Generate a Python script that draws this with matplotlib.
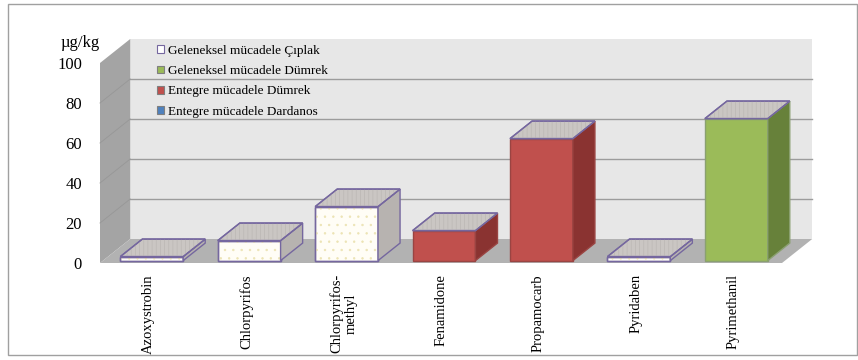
import matplotlib
matplotlib.use('Agg')
import matplotlib.pyplot as plt
from matplotlib.patches import Polygon, Rectangle, Patch

# datos (µg/kg)
categories = ['Azoxystrobin', 'Chlorpyrifos', 'Chlorpyrifos-\nmethyl', 'Fenamidone',
              'Propamocarb', 'Pyridaben', 'Pyrimethanil']
geleneksel_ciplak = [2, 10, 27, 0, 0, 2, 0]
geleneksel_dumrek = [0, 0, 0, 0, 0, 0, 71]
entegre_dumrek = [0, 0, 0, 15, 61, 0, 0]
entegre_dardanos = [0, 0, 0, 0, 0, 0, 0]
series_names = ['Geleneksel mücadele Çıplak', 'Geleneksel mücadele Dümrek',
                'Entegre mücadele Dümrek', 'Entegre mücadele Dardanos']
y_ticks = [0, 20, 40, 60, 80, 100]

# estilo de cada serie: frente, lateral, borde, patrón del frente
styles = [
    dict(front='#fffdf6', side='#b7b3b0', edge='#75679f', hatch='..', hcol='#ece3b4'),
    dict(front='#9bbb59', side='#67813a', edge='#8aa070', hatch=None, hcol=None),
    dict(front='#c0504d', side='#8a3331', edge='#9a4442', hatch=None, hcol=None),
    dict(front='#4f81bd', side='#385d8a', edge='#385d8a', hatch=None, hcol=None),
]
series = [geleneksel_ciplak, geleneksel_dumrek, entegre_dumrek, entegre_dardanos]

plt.rcParams['font.family'] = ['Liberation Serif', 'DejaVu Serif']
plt.rcParams['hatch.linewidth'] = 0.5

fig = plt.figure(figsize=(8.58, 3.6), dpi=100)
ax = fig.add_axes([100 / 858, 97 / 360, 682 / 858, 200 / 360])
ax.set_xlim(-0.5, len(categories) - 0.5)
ax.set_ylim(0, 100)

# profundidad del "3D" en unidades de datos
DX, DY = 0.31, 12.0
Z0, Z1 = 0.1, 0.83
W = 0.645


def P(x, y, z):
    return (x + z * DX, y + z * DY)


def poly(pts, **kw):
    p = Polygon(pts, closed=True, clip_on=False, **kw)
    ax.add_patch(p)
    return p


xa, xb = -0.5, len(categories) - 0.5
ymax = y_ticks[-1]

# pared del fondo, pared izquierda y suelo
poly([P(xa, 0, 1), P(xb, 0, 1), P(xb, ymax, 1), P(xa, ymax, 1)],
     facecolor='#e7e7e7', edgecolor='none', zorder=1)
poly([P(xa, 0, 0), P(xa, 0, 1), P(xa, ymax, 1), P(xa, ymax, 0)],
     facecolor='#a4a4a4', edgecolor='none', zorder=1)
for v in y_ticks[1:-1]:
    x1, y1 = P(xa, v, 1)
    x2, y2 = P(xb, v, 1)
    ax.plot([x1, x2], [y1, y2], color='#9c9c9c', lw=1.0, zorder=2, clip_on=False)
    x0, y0 = P(xa, v, 0)
    ax.plot([x0, x1], [y0, y1], color='#979797', lw=0.6, zorder=2, clip_on=False)
poly([P(xa, 0, 0), P(xb, 0, 0), P(xb, 0, 1), P(xa, 0, 1)],
     facecolor='#b2b2b2', edgecolor='none', zorder=2)

# barras
for s, vals in enumerate(series):
    st = styles[s]
    for i, v in enumerate(vals):
        if v <= 0:
            continue
        x0, x1 = i - W / 2, i + W / 2
        front = [P(x0, 0, Z0), P(x1, 0, Z0), P(x1, v, Z0), P(x0, v, Z0)]
        top = [P(x0, v, Z0), P(x1, v, Z0), P(x1, v, Z1), P(x0, v, Z1)]
        side = [P(x1, 0, Z0), P(x1, 0, Z1), P(x1, v, Z1), P(x1, v, Z0)]
        poly(front, facecolor=st['front'], edgecolor=st['edge'], lw=1.0, zorder=5)
        if st['hatch']:
            poly(front, facecolor='none', edgecolor=st['hcol'], lw=0, hatch=st['hatch'], zorder=5)
            poly(front, facecolor='none', edgecolor=st['edge'], lw=1.0, zorder=5)
        poly(side, facecolor=st['side'], edgecolor=st['edge'], lw=1.0, zorder=5)
        poly(top, facecolor='#cac6c3', edgecolor='#75679f', lw=1.0, zorder=5)
        poly(top, facecolor='none', edgecolor='#bbb7b4', lw=0, hatch='||||', zorder=5)
        poly(top, facecolor='none', edgecolor='#75679f', lw=1.0, zorder=5)

# ejes
for sp in ax.spines.values():
    sp.set_visible(False)
ax.set_yticks(y_ticks)
ax.set_yticklabels([str(t) for t in y_ticks], fontsize=12)
ax.tick_params(axis='y', length=0, pad=13)
ax.set_xticks(range(len(categories)))
ax.set_xticklabels(categories, rotation=90, fontsize=10.5, va='top', ha='center',
                   multialignment='center')
ax.tick_params(axis='x', length=0, pad=8)
ax.patch.set_visible(False)

fig.text(80 / 858, 1 - 43 / 360, 'µg/kg', fontsize=12, ha='center', va='center')

# leyenda
handles = [Patch(facecolor=styles[k]['front'] if k else '#ffffff',
                 edgecolor='#7f7f7f', lw=0.8) for k in range(4)]
handles[0].set_edgecolor('#75679f')
ax.legend(handles, series_names, loc='upper left', bbox_to_anchor=(0.083, 1.09),
          frameon=False, fontsize=9.5, handlelength=0.55, handleheight=0.55,
          handletextpad=0.3, labelspacing=0.62, borderpad=0, borderaxespad=0)

# marco exterior
fig.add_artist(Rectangle((8 / 858, 5 / 360), 849 / 858, 351 / 360, transform=fig.transFigure,
                         facecolor='none', edgecolor='#a0a0a0', lw=1))

fig.savefig('out.png', dpi=100)
